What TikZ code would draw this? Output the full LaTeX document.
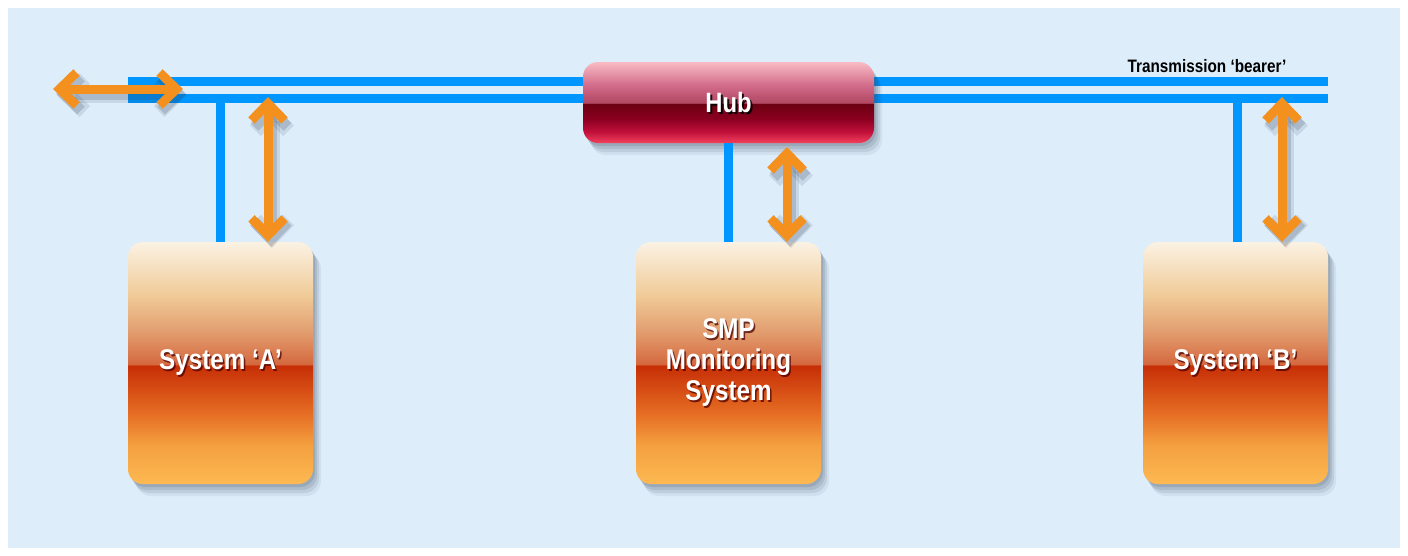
\documentclass[tikz,border=0pt]{standalone}
\usepackage{fontspec}
\newfontfamily\cond[FakeStretch=0.85]{Liberation Sans}
\usetikzlibrary{arrows.meta,shadows}
\definecolor{bg}{HTML}{DDEDFA}
\definecolor{busblue}{HTML}{0096FF}
\definecolor{org}{HTML}{F4901E}
\definecolor{shcol}{HTML}{2A3A50}
% box colours (bottom to top)
\definecolor{bA}{HTML}{FDB952}
\definecolor{bB}{HTML}{F4A040}
\definecolor{bC}{HTML}{E46A22}
\definecolor{bD}{HTML}{C62E06}
\definecolor{bE}{HTML}{D4683E}
\definecolor{bF}{HTML}{E19A6C}
\definecolor{bG}{HTML}{F0CB98}
\definecolor{bH}{HTML}{FBF2E4}
% hub colours (bottom to top)
\definecolor{hA}{HTML}{F2405C}
\definecolor{hB}{HTML}{C0103A}
\definecolor{hC}{HTML}{8A0020}
\definecolor{hD}{HTML}{6A0010}
\definecolor{hE}{HTML}{B04862}
\definecolor{hF}{HTML}{D06888}
\definecolor{hG}{HTML}{F9BCC4}
\pgfdeclareverticalshading{boxshade}{100bp}{color(0bp)=(bA); color(25bp)=(bA); color(33bp)=(bB); color(40bp)=(bC); color(49.5bp)=(bD); color(49.7bp)=(bE); color(56bp)=(bF); color(64bp)=(bG); color(75bp)=(bH); color(100bp)=(bH)}
\pgfdeclareverticalshading{hubshade}{100bp}{color(0bp)=(hA); color(25bp)=(hA); color(32bp)=(hB); color(40bp)=(hC); color(49.5bp)=(hD); color(49.7bp)=(hE); color(60bp)=(hF); color(75bp)=(hG); color(100bp)=(hG)}
\tikzset{
  softshadow/.style={
    drop shadow={shadow xshift=2pt, shadow yshift=-3pt, opacity=0.14, fill=shcol},
    drop shadow={shadow xshift=4pt, shadow yshift=-6pt, opacity=0.12, fill=shcol},
    drop shadow={shadow xshift=6pt, shadow yshift=-9pt, opacity=0.10, fill=shcol},
    drop shadow={shadow xshift=8pt, shadow yshift=-12pt, opacity=0.07, fill=shcol}},
  sysbox/.style={rounded corners=15pt, minimum width=185pt, minimum height=242pt,
    shading=boxshade, softshadow, inner sep=0pt},
  hubbox/.style={rounded corners=15pt, minimum width=291pt, minimum height=81pt,
    shading=hubshade, softshadow, inner sep=0pt},
  lbl/.style={font=\cond\bfseries\fontsize{28.5}{31}\selectfont, text=white, align=center},
  lblsh/.style={lbl, text=black!70!red, opacity=0.75},
  hublbl/.style={font=\cond\bfseries\fontsize{28}{30}\selectfont, text=white},
  hubsh/.style={hublbl, text=black, opacity=0.85},
  buslbl/.style={font=\cond\bfseries\fontsize{18}{20}\selectfont, text=black},
  busline/.style={draw=busblue, line width=9pt},
  oarrow/.style={draw=org, line width=9pt, line join=miter,
    {Straight Barb[length=17pt,width=33pt]}-{Straight Barb[length=17pt,width=33pt]},
    preaction={draw=shcol, draw opacity=0.18, line width=11pt, transform canvas={shift={(3pt,-5pt)}}},
    preaction={draw=shcol, draw opacity=0.12, line width=15pt, transform canvas={shift={(4pt,-6pt)}}}},
}
\begin{document}
\begin{tikzpicture}[x=1pt,y=-1pt]
\useasboundingbox (0,0) rectangle (1408,555);
\fill[white] (0,0) rectangle (1408,555);
\fill[bg] (8,8) rectangle (1400,548);

% transmission bearer
\coordinate (t1) at (128,81.5);
\coordinate (t2) at (1328,81.5);
\coordinate (b1) at (128,98.5);
\coordinate (b2) at (1328,98.5);
\draw[busline] (t1) -- (t2);
\draw[busline] (b1) -- (b2);
\node[buslbl] (tlab) at (1207,66) {Transmission ‘bearer’};

% nodes
\node[hubbox] (hub) at (728.5,102.5) {};
\node[hubsh] (hubs) at (730.5,104.5) {Hub};
\node[hublbl] (hubt) at (728.5,102.5) {Hub};

\node[sysbox] (A) at (220.5,363) {};
\node[sysbox] (S) at (728.5,363) {};
\node[sysbox] (B) at (1235.5,363) {};

\node[lblsh] (As) at (222,364) {System ‘A’};
\node[lbl] (At) at (220.5,362.5) {System ‘A’};
\node[lblsh] (Ss) at (730,364) {SMP\\Monitoring\\System};
\node[lbl] (St) at (728.5,362.5) {SMP\\Monitoring\\System};
\node[lblsh] (Bs) at (1237,364) {System ‘B’};
\node[lbl] (Bt) at (1235.5,362.5) {System ‘B’};

% vertical blue links
\coordinate (ta) at (220,98.5);
\coordinate (tb) at (1237,98.5);
\draw[busline] (ta) -- (ta |- A.north);
\draw[busline] (hub.south) -- (S.north);
\draw[busline] (tb) -- (tb |- B.north);

% orange arrows
\coordinate (la) at (53,89);
\coordinate (lb) at (183,89);
\draw[oarrow] (la) -- (lb);
\coordinate (aa) at (268,97);
\draw[oarrow] (aa) -- (aa |- A.north);
\coordinate (sa) at (787,147);
\draw[oarrow] (sa) -- (sa |- S.north);
\coordinate (ba) at (1282,97);
\draw[oarrow] (ba) -- (ba |- B.north);
\end{tikzpicture}
\end{document}
